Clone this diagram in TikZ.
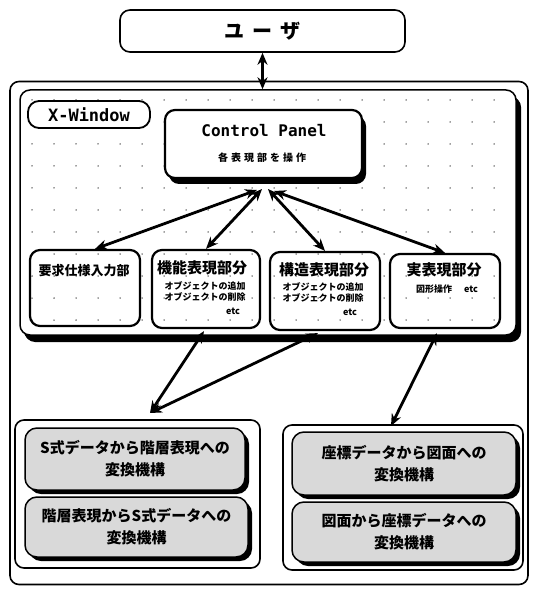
\documentclass[tikz,border=0pt]{standalone}
\usepackage{fontspec}
\newfontfamily\jp{Noto Sans CJK JP}
\newfontfamily\mono{DejaVu Sans Mono}
\usetikzlibrary{arrows.meta,shadows,calc}
\begin{document}
\begin{tikzpicture}[x=1pt,y=-1pt,
  frame/.style={draw,line width=1.6pt,rounded corners=9pt,inner sep=0pt},
  box/.style={draw,line width=2.2pt,rounded corners=10pt,inner sep=0pt},
  sbox/.style={box,fill=white,drop shadow={shadow xshift=4pt,shadow yshift=-6pt,fill=black,opacity=1}},
  shaded/.style={draw,line width=1.5pt,rounded corners=12pt,fill=gray!30,inner sep=0pt,
    drop shadow={shadow xshift=4pt,shadow yshift=-4pt,fill=black,opacity=1},
    align=center,font=\jp\bfseries\fontsize{15}{22}\selectfont},
  arr/.style={line width=2.8pt,{Stealth[length=12pt,width=10pt]}-{Stealth[length=12pt,width=10pt]}},
  jtitle/.style={font=\jp\bfseries\fontsize{15}{17}\selectfont,inner sep=0pt},
  jsub/.style={font=\jp\bfseries\fontsize{9}{11}\selectfont,inner sep=0pt,align=left},
  griddot/.style={fill=black!75}]
\useasboundingbox (0,0) rectangle (537,593);

% outer frame
\node[frame,minimum width=518pt,minimum height=503pt] (outer) at (269,333) {};

% user
\node[box,line width=1.6pt,minimum width=285pt,minimum height=42pt] (user) at (262.5,31)
  {\jp\bfseries\fontsize{20}{20}\selectfont ユ\hspace{8pt}ー\hspace{8pt}ザ};

% X-Window area
\node[sbox,line width=1.5pt,minimum width=496pt,minimum height=245pt,
  drop shadow={shadow xshift=5pt,shadow yshift=-7pt,fill=black,opacity=1}] (win) at (268,212.5) {};
\foreach \x in {32,54,...,510} \foreach \y in {100,122,...,330}
  \fill[griddot] (\x,\y) circle (0.75pt);

\node[box,fill=white,line width=1.8pt,minimum width=122pt,minimum height=27pt,rounded corners=11pt,
  font=\mono\bfseries\fontsize{17}{17}\selectfont] (xw) at (89,114.5) {X-Window};

% control panel
\node[sbox,minimum width=197pt,minimum height=68pt] (cp) at (263.5,144) {};
\node[font=\mono\bfseries\fontsize{16}{16}\selectfont,inner sep=0pt] (cpt) at (264,131) {Control Panel};
\node[font=\jp\bfseries\fontsize{10}{10}\selectfont\addfontfeature{LetterSpace=30},inner sep=0pt] (cps) at (262,158) {各表現部を操作};

% four boxes
\node[box,minimum width=110pt,minimum height=76pt] (req) at (85,288) {};
\node[jtitle,font=\jp\bfseries\fontsize{13}{15}\selectfont] (reqt) at (84,271) {要求仕様入力部};

\node[box,minimum width=108pt,minimum height=78pt] (fun) at (206,289) {};
\node[jtitle] (funt) at (202,268) {機能表現部分};
\node[jsub] (funs) at (205,291) {オブジェクトの追加\\オブジェクトの削除};
\node[jsub] (fune) at (233,311) {etc};

\node[box,minimum width=110pt,minimum height=78pt] (str) at (325,291) {};
\node[jtitle] (strt) at (324,270) {構造表現部分};
\node[jsub] (strs) at (323,292) {オブジェクトの追加\\オブジェクトの削除};
\node[jsub] (stre) at (350,312) {etc};

\node[box,minimum width=110pt,minimum height=74pt] (real) at (445,291) {};
\node[jtitle] (realt) at (444,270) {実表現部分};
\node[jsub] (reals) at (447,289) {図形操作\hspace{12pt}etc};

% lower groups
\node[frame,minimum width=245pt,minimum height=148pt] (lg) at (137.5,494) {};
\node[frame,minimum width=240pt,minimum height=145pt] (rg) at (403,497.5) {};

\node[shaded,minimum width=220pt,minimum height=62pt] (l1) at (135,459) {S式データから階層表現への\\変換機構};
\node[shaded,minimum width=223pt,minimum height=60pt] (l2) at (136.5,527) {階層表現からS式データへの\\変換機構};
\node[shaded,minimum width=224pt,minimum height=63pt] (r1) at (404,463.5) {座標データから図面への\\変換機構};
\node[shaded,minimum width=224pt,minimum height=60pt] (r2) at (404,532) {図面から座標データへの\\変換機構};

% connectors
\draw[arr] (user.south) -- (user.south |- win.north);

\coordinate (c1) at (257,190);
\coordinate (c2) at (262,189);
\coordinate (c3) at (268,189);
\coordinate (c4) at (274,191);
\draw[arr] (c1) -- ($(req.north)+(10,0)$);
\draw[arr] (c2) -- (fun.north);
\draw[arr] (c3) -- (str.north);
\draw[arr] (c4) -- (real.north);

\coordinate (lgt) at (150,413);
\coordinate (rgt) at (391,426);
\draw[arr] ($(fun.south)+(-2,2)$) -- (lgt);
\draw[arr] ($(str.south)+(-7,2)$) -- (lgt);
\draw[arr] ($(real.south)+(-8,4)$) -- (rgt);
\end{tikzpicture}
\end{document}
